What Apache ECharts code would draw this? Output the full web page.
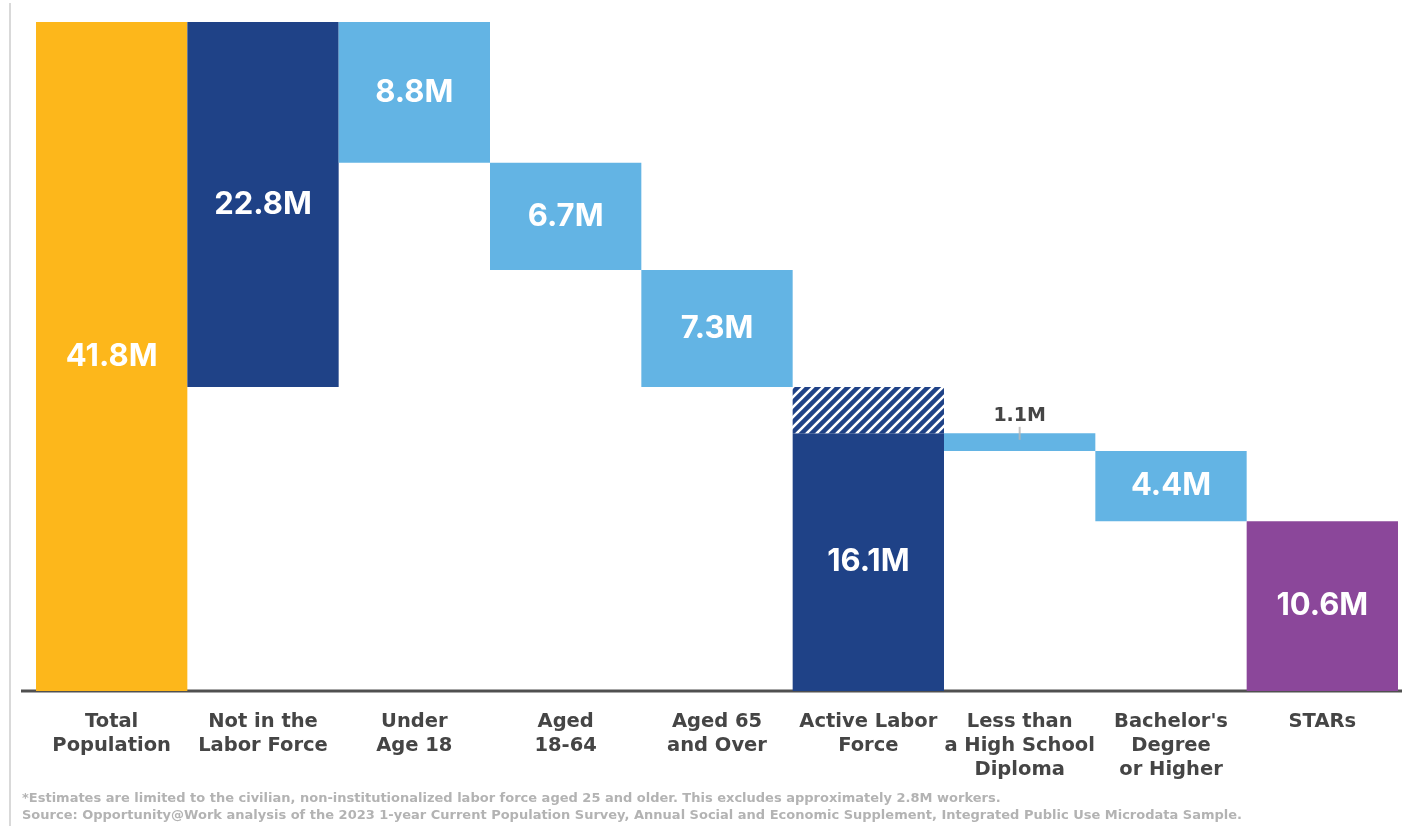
<!DOCTYPE html>
<html>
<head>
<meta charset="utf-8">
<script src="https://cdn.jsdelivr.net/npm/echarts@6/dist/echarts.min.js"></script>
<style>
  html, body { margin: 0; padding: 0; background: #fff; }
  #chart { width: 1404px; height: 826px; }
</style>
</head>
<body>
<div id="chart"></div>
<script>
// categories along the x axis
var categories = ['Total\nPopulation', 'Not in the\nLabor Force', 'Under\nAge 18', 'Aged\n18-64',
  'Aged 65\nand Over', 'Active Labor\nForce', 'Less than\na High School\nDiploma',
  "Bachelor's\nDegree\nor Higher", 'STARs'];
// invisible floor of each step (millions)
var floorValues = [0, 19.0, 33.0, 26.3, 19.0, 0, 15.0, 10.6, 0];
// visible value of each step (millions)
var stepValues = [41.8, 22.8, 8.8, 6.7, 7.3, 16.1, 1.1, 4.4, 10.6];
// excluded workers, hatched on top of the active labor force
var excludedValues = ['-', '-', '-', '-', '-', 2.9, '-', '-', '-'];
var barColors = ['#FDB71B', '#1F4287', '#63B4E4', '#63B4E4', '#63B4E4', '#1F4287', '#63B4E4', '#63B4E4', '#8B479A'];

var valueFont = 'Inter, "Noto Sans", sans-serif';
var textFont = '"DejaVu Sans", sans-serif';

// diagonal stripe pattern
function stripes() {
  var c = document.createElement('canvas');
  c.width = 10; c.height = 10;
  var ctx = c.getContext('2d');
  ctx.fillStyle = '#1F4287';
  ctx.fillRect(0, 0, 10, 10);
  ctx.strokeStyle = '#ffffff';
  ctx.lineWidth = 2.6;
  ctx.beginPath();
  ctx.moveTo(-5, 5); ctx.lineTo(5, -5);
  ctx.moveTo(0, 10); ctx.lineTo(10, 0);
  ctx.moveTo(5, 15); ctx.lineTo(15, 5);
  ctx.stroke();
  return c;
}

var chart = echarts.init(document.getElementById('chart'));

var mainData = stepValues.map(function (v, i) {
  var item = { value: v, itemStyle: { color: barColors[i] } };
  if (i === 6) {
    item.label = { position: 'top', distance: 8, color: '#454545', fontFamily: textFont, fontSize: 19, fontWeight: 'bold' };
  }
  return item;
});

var tickData = categories.map(function (c, i) { return i === 6 ? 16.1 : '-'; });

var option = {
  animation: false,
  grid: { left: 36, right: 6, top: 22, bottom: 135 },
  xAxis: {
    type: 'category',
    data: categories,
    axisTick: { show: false },
    axisLine: { show: false },
    axisLabel: {
      interval: 0,
      margin: 19,
      color: '#454545',
      fontFamily: textFont,
      fontWeight: 'bold',
      fontSize: 19.5,
      lineHeight: 24
    }
  },
  yAxis: {
    type: 'value',
    min: 0,
    max: 41.8,
    show: false,
    splitLine: { show: false }
  },
  series: [
    {
      type: 'bar',
      stack: 'w',
      data: floorValues,
      barCategoryGap: 0,
      itemStyle: { color: 'transparent' },
      silent: true
    },
    {
      type: 'bar',
      stack: 'w',
      data: mainData,
      barCategoryGap: 0,
      label: {
        show: true,
        position: 'inside',
        color: '#fff',
        fontFamily: valueFont,
        fontWeight: 'bold',
        fontSize: 31,
        formatter: function (p) { return p.value + 'M'; }
      }
    },
    {
      type: 'bar',
      stack: 'w',
      data: excludedValues,
      barCategoryGap: 0,
      itemStyle: { color: { image: stripes(), repeat: 'repeat' } }
    },
    {
      type: 'scatter',
      data: tickData,
      symbol: 'rect',
      symbolSize: [2, 13],
      itemStyle: { color: '#b5b5b5' },
      z: 5
    }
  ],
  graphic: [
    {
      type: 'line',
      shape: { x1: 10, y1: 3, x2: 10, y2: 826 },
      style: { stroke: '#cccccc', lineWidth: 1.5 }
    },
    {
      type: 'line',
      shape: { x1: 21, y1: 691, x2: 1402, y2: 691 },
      style: { stroke: '#505050', lineWidth: 3 }
    },
    {
      type: 'text',
      left: 22,
      top: 790,
      style: {
        text: '*Estimates are limited to the civilian, non-institutionalized labor force aged 25 and older. This excludes approximately 2.8M workers.\nSource: Opportunity@Work analysis of the 2023 1-year Current Population Survey, Annual Social and Economic Supplement, Integrated Public Use Microdata Sample.',
        fill: '#b3b3b3',
        font: 'bold 13px ' + textFont,
        lineHeight: 17
      }
    }
  ]
};

chart.setOption(option);
window.addEventListener('resize', function () { chart.resize(); });
</script>
</body>
</html>
